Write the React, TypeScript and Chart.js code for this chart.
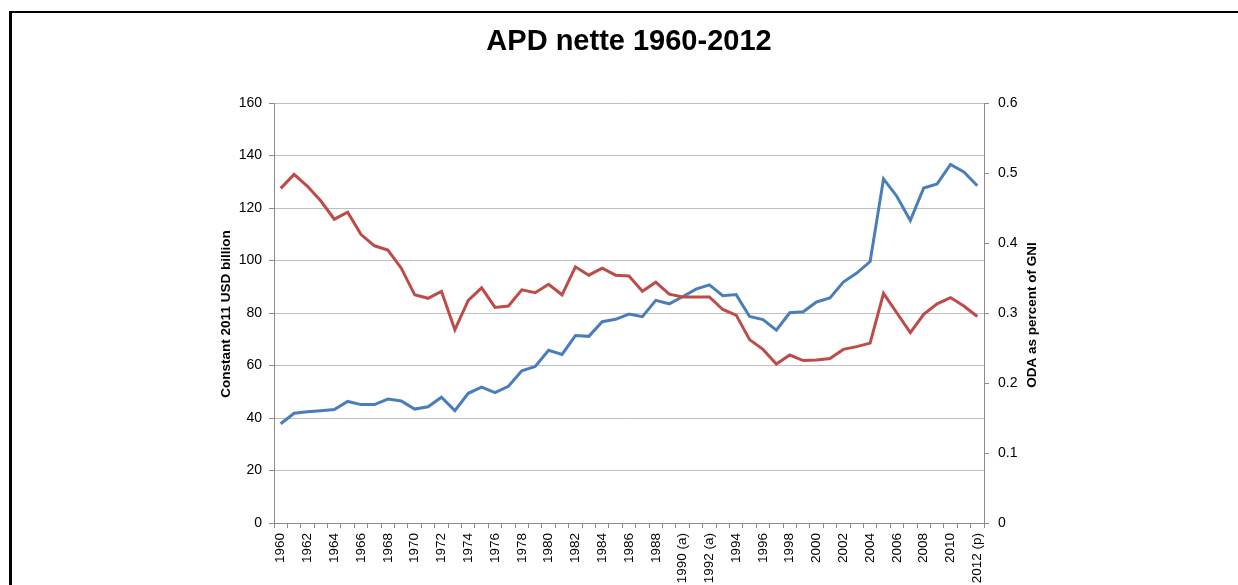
import React, { useEffect, useRef } from "react";
import { Chart, registerables } from "chart.js";

Chart.register(...registerables);

const years: string[] = [
  "1960", "1961", "1962", "1963", "1964", "1965", "1966", "1967", "1968", "1969",
  "1970", "1971", "1972", "1973", "1974", "1975", "1976", "1977", "1978", "1979",
  "1980", "1981", "1982", "1983", "1984", "1985", "1986", "1987", "1988", "1989",
  "1990 (a)", "1991 (a)", "1992 (a)", "1993", "1994", "1995", "1996", "1997", "1998", "1999",
  "2000", "2001", "2002", "2003", "2004", "2005", "2006", "2007", "2008", "2009",
  "2010", "2011", "2012 (p)",
];

const odaBillions: number[] = [
  37.8, 41.8, 42.4, 42.8, 43.2, 46.3, 45.1, 45.1, 47.2, 46.5,
  43.4, 44.3, 47.9, 42.8, 49.4, 51.8, 49.7, 52.1, 58.0, 59.6,
  65.8, 64.2, 71.4, 71.1, 76.7, 77.6, 79.6, 78.6, 84.8, 83.5,
  86.2, 89.1, 90.7, 86.6, 87.0, 78.7, 77.5, 73.5, 80.1, 80.5,
  84.2, 85.7, 91.8, 95.2, 99.6, 131.1, 124.4, 115.2, 127.6, 129.2,
  136.6, 133.7, 128.5,
];

const odaGniPercent: number[] = [
  0.478, 0.498, 0.481, 0.46, 0.434, 0.444, 0.412, 0.396, 0.39, 0.364,
  0.326, 0.321, 0.331, 0.276, 0.318, 0.336, 0.308, 0.31, 0.333, 0.329,
  0.341, 0.326, 0.366, 0.354, 0.364, 0.354, 0.353, 0.331, 0.344, 0.327,
  0.323, 0.323, 0.323, 0.305, 0.297, 0.262, 0.248, 0.227, 0.24, 0.232,
  0.233, 0.235, 0.248, 0.252, 0.257, 0.328, 0.3, 0.272, 0.298, 0.313,
  0.322, 0.31, 0.295,
];

const chartTitle = "APD nette 1960-2012";
const leftTitle = "Constant 2011 USD billion";
const rightTitle = "ODA as percent of GNI";

const FONT = "'Liberation Sans', Arial, sans-serif";

const titlesPlugin = {
  id: "customTitles",
  afterDraw(chart: any) {
    const ctx = chart.ctx as CanvasRenderingContext2D;
    const area = chart.chartArea;
    const midY = (area.top + area.bottom) / 2;
    ctx.save();
    ctx.fillStyle = "#000";
    ctx.font = `bold 29px ${FONT}`;
    ctx.textAlign = "center";
    ctx.textBaseline = "alphabetic";
    ctx.fillText(chartTitle, 629, 50);

    ctx.font = `bold 13.5px ${FONT}`;
    ctx.textBaseline = "middle";
    ctx.save();
    ctx.translate(226, midY + 1);
    ctx.rotate(-Math.PI / 2);
    ctx.fillText(leftTitle, 0, 0);
    ctx.restore();

    ctx.save();
    ctx.translate(1032, midY + 2);
    ctx.rotate(-Math.PI / 2);
    ctx.fillText(rightTitle, 0, 0);
    ctx.restore();
    ctx.restore();
  },
};

export default function App() {
  const canvasRef = useRef<HTMLCanvasElement | null>(null);

  useEffect(() => {
    document.body.style.margin = "0";
    const canvas = canvasRef.current;
    if (!canvas) return;
    const chart = new Chart(canvas, {
      type: "line",
      data: {
        labels: years,
        datasets: [
          {
            label: leftTitle,
            data: odaBillions,
            yAxisID: "y",
            borderColor: "#4a7ebb",
            backgroundColor: "#4a7ebb",
            borderWidth: 3,
            pointRadius: 0,
            tension: 0,
            order: 2,
          },
          {
            label: rightTitle,
            data: odaGniPercent,
            yAxisID: "y1",
            borderColor: "#be4b48",
            backgroundColor: "#be4b48",
            borderWidth: 3,
            pointRadius: 0,
            tension: 0,
            order: 1,
          },
        ],
      },
      plugins: [titlesPlugin],
      options: {
        responsive: false,
        animation: false,
        layout: { padding: { left: 214, right: 197, top: 103, bottom: 0 } },
        plugins: {
          legend: { display: false },
          title: { display: false },
          tooltip: { enabled: false },
        },
        scales: {
          x: {
            type: "category",
            offset: true,
            grid: {
              offset: true,
              drawOnChartArea: false,
              drawTicks: true,
              tickLength: 5,
              color: "#8c8c8c",
            },
            border: { display: true, color: "#8c8c8c" },
            ticks: {
              autoSkip: false,
              minRotation: 90,
              maxRotation: 90,
              padding: 5,
              color: "#000",
              font: { family: FONT, size: 13.5 },
              callback: function (this: any, _v: any, index: number) {
                return index % 2 === 0 ? years[index] : "";
              },
            },
            afterFit(scale: any) {
              scale.height = 62;
            },
          },
          y: {
            position: "left",
            min: 0,
            max: 160,
            ticks: {
              stepSize: 20,
              padding: 7,
              color: "#000",
              font: { family: FONT, size: 14 },
            },
            grid: {
              color: "#bfbfbf",
              tickColor: "#8c8c8c",
              tickLength: 5,
              lineWidth: 1,
            },
            border: { display: true, color: "#8c8c8c" },
            afterFit(scale: any) {
              scale.width = 60;
            },
          },
          y1: {
            position: "right",
            min: 0,
            max: 0.6,
            ticks: {
              stepSize: 0.1,
              padding: 9,
              color: "#000",
              font: { family: FONT, size: 14 },
              callback: (v: any) => (Number(v) === 0 ? "0" : Number(v).toFixed(1)),
            },
            grid: {
              drawOnChartArea: false,
              color: "#8c8c8c",
              tickLength: 5,
            },
            border: { display: true, color: "#8c8c8c" },
            afterFit(scale: any) {
              scale.width = 57;
            },
          },
        },
      },
    });
    return () => chart.destroy();
  }, []);

  return (
    <div style={{ position: "relative", width: 1238, height: 585, overflow: "hidden", background: "#fff" }}>
      <canvas ref={canvasRef} width={1238} height={585} style={{ display: "block" }} />
      <div
        style={{
          position: "absolute",
          left: 9,
          top: 11,
          width: 1400,
          height: 700,
          borderLeft: "3px solid #000",
          borderTop: "2px solid #000",
          pointerEvents: "none",
        }}
      />
    </div>
  );
}
